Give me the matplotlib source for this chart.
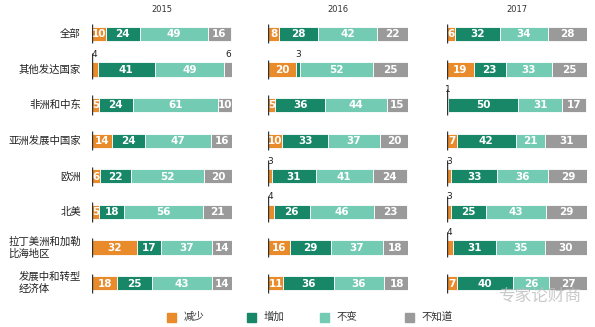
import matplotlib
matplotlib.use("Agg")
import matplotlib.pyplot as plt
from matplotlib.patches import Rectangle

plt.rcParams['font.family'] = ['Noto Sans CJK SC', 'DejaVu Sans']

years = ['2015', '2016', '2017']
regions = ['全部', '其他发达国家', '非洲和中东', '亚洲发展中国家', '欧洲', '北美',
           '拉丁美洲和加勒\n比海地区', '发展中和转型\n经济体']
series = ['减少', '增加', '不变', '不知道']

# 每年: 减少, 增加, 不变, 不知道
v2015 = [[10, 24, 49, 16], [4, 41, 49, 6], [5, 24, 61, 10], [14, 24, 47, 16],
         [6, 22, 52, 20], [5, 18, 56, 21], [32, 17, 37, 14], [18, 25, 43, 14]]
v2016 = [[8, 28, 42, 22], [20, 3, 52, 25], [5, 36, 44, 15], [10, 33, 37, 20],
         [3, 31, 41, 24], [4, 26, 46, 23], [16, 29, 37, 18], [11, 36, 36, 18]]
v2017 = [[6, 32, 34, 28], [19, 23, 33, 25], [1, 50, 31, 17], [7, 42, 21, 31],
         [3, 33, 36, 29], [3, 25, 43, 29], [4, 31, 35, 30], [7, 40, 26, 27]]
data = [v2015, v2016, v2017]

colors = ['#E98B2A', '#178768', '#74CBB3', '#9A9A9A']
num_font = ['Liberation Sans Narrow', 'DejaVu Sans']

W, H = 595, 327
fig = plt.figure(figsize=(W / 100, H / 100), dpi=100)

lefts = [92, 268, 447]
top_px, bot_px = 16, 301
for k, (yr, vals) in enumerate(zip(years, data)):
    ax = fig.add_axes([lefts[k] / W, 1 - bot_px / H, 140 / W, (bot_px - top_px) / H])
    for i, row in enumerate(vals):
        left = 0
        top_ext = -0.27
        for j, v in enumerate(row):
            ax.barh(i, v, left=left, height=0.4, color=colors[j],
                    edgecolor='white', linewidth=0.6)
            cx = left + v / 2
            if v < 5 or (j == 3 and v < 8):
                ax.text(cx, i - 0.3, str(v), ha='center', va='bottom',
                        fontsize=6.5, color='#222222', family=num_font)
                if left < 5:
                    top_ext = -0.45
            else:
                ax.text(cx, i + 0.01, str(v), ha='center', va='center',
                        fontsize=7.5, color='white', fontweight='bold',
                        family=num_font)
            left += v
        ax.vlines(0, i + top_ext, i + 0.27, color='#333333', linewidth=1)
    ax.set_xlim(0, 100)
    ax.set_ylim(7.5, -0.5)
    ax.axis('off')
    fig.text((lefts[k] + 70) / W, 1 - 9 / H, yr, ha='center', va='center',
             fontsize=6, family=num_font, color='#333333')

# 类别标签
for i, name in enumerate(regions):
    y = top_px + (bot_px - top_px) / 8 * (i + 0.5)
    fig.text(81 / W, 1 - y / H, name, ha='right', va='center',
             multialignment='left', fontsize=7.5, color='#222222',
             linespacing=1.25)

# 图例
leg_x = [172, 252, 325, 410]
for x, c, s in zip(leg_x, colors, series):
    fig.add_artist(Rectangle(((x - 5) / W, 1 - 322 / H), 9 / W, 9 / H,
                             transform=fig.transFigure, color=c))
    fig.text((x + 12) / W, 1 - 317 / H, s, ha='left', va='center',
             fontsize=7.5, color='#333333')

# 水印
fig.text(498 / W, 1 - 296 / H, '专家论财商', ha='left', va='center',
         fontsize=12, color='#BBBBBB', alpha=0.8)

fig.savefig('out.png', dpi=100)
